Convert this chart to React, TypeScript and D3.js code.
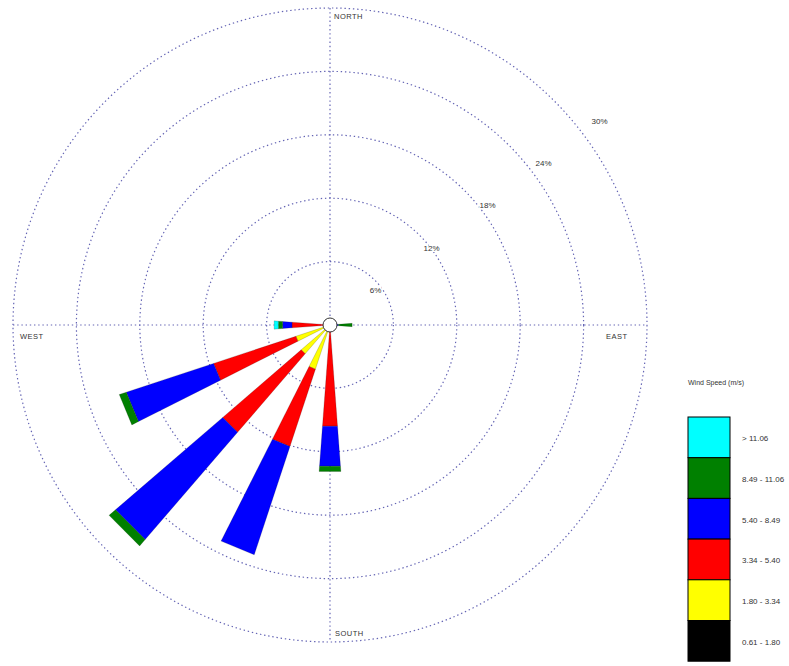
import React from "react";
import * as d3 from "d3";

// Directions (degrees clockwise from north) with frequencies (%) per speed class
const directions = [90, 180, 202.5, 225, 247.5, 270];
const classLabels = ["0.61 - 1.80", "1.80 - 3.34", "3.34 - 5.40", "5.40 - 8.49", "8.49 - 11.06", "> 11.06"];
const classColors = ["#000000", "#ffff00", "#ff0000", "#0000ff", "#008000", "#00ffff"];
const calm = [0.1, 0.3, 0.4, 0.4, 0.4, 0.2];
const light = [0.1, 0.3, 4.0, 3.2, 3.0, 0.4];
const moderate = [0.2, 9.0, 7.7, 9.8, 8.2, 3.0];
const fresh = [0.4, 3.8, 10.8, 13.4, 8.7, 0.9];
const strong = [1.3, 0.5, 0, 0.8, 0.7, 0.4];
const gale = [0, 0, 0, 0, 0, 0.4];
const ringValues = [6, 12, 18, 24, 30];
const ringLabels = ["6%", "12%", "18%", "24%", "30%"];
const compass = ["NORTH", "EAST", "SOUTH", "WEST"];

export default function App() {
  const W = 789, H = 666;
  const cx = 330, cy = 325;
  const r = d3.scaleLinear().domain([0, 30]).range([0, 317]);
  const half = 4.25;
  const rad = (deg: number) => (deg * Math.PI) / 180;
  const pt = (rr: number, a: number): [number, number] => [cx + rr * Math.sin(rad(a)), cy - rr * Math.cos(rad(a))];
  const line = d3.line();
  const series = [calm, light, moderate, fresh, strong, gale];
  const grid = "#6464b4";

  const petals: JSX.Element[] = [];
  directions.forEach((dir, i) => {
    let acc = 0;
    series.forEach((s, k) => {
      const v = s[i];
      if (v <= 0) return;
      const r0 = r(acc), r1 = r(acc + v);
      acc += v;
      const d = line([pt(r0, dir - half), pt(r1, dir - half), pt(r1, dir + half), pt(r0, dir + half)]) + "Z";
      petals.push(<path key={`${i}-${k}`} d={d} fill={classColors[k]} stroke="#000" strokeOpacity={0.35} strokeWidth={0.5} />);
    });
  });

  const legendX = 688, legendTop = 417, boxW = 42, boxH = 40.7;
  const legendOrder = d3.range(classLabels.length).reverse();

  return (
    <svg width={W} height={H} style={{ position: "absolute", left: 0, top: 0, background: "#fff" }} fontFamily="Liberation Sans, Arial, sans-serif">
      {ringValues.map((v) => (
        <circle key={v} cx={cx} cy={cy} r={r(v)} fill="none" stroke={grid} strokeWidth={1.2} strokeDasharray="1.4,2.8" />
      ))}
      <line x1={cx - r(30)} x2={cx + r(30)} y1={cy} y2={cy} stroke={grid} strokeWidth={1.2} strokeDasharray="1.4,2.8" />
      <line x1={cx} x2={cx} y1={cy - r(30)} y2={cy + r(30)} stroke={grid} strokeWidth={1.2} strokeDasharray="1.4,2.8" />
      {ringValues.map((v, i) => {
        const [x, y] = pt(r(v) * 1.106 - 13, 53);
        return (
          <text key={v} x={x} y={y} fontSize={8} fill="#333" textAnchor="middle" dominantBaseline="middle" stroke="#fff" strokeWidth={2} paintOrder="stroke">{ringLabels[i]}</text>
        );
      })}
      <text x={cx + 4} y={19} fontSize={7.5} fill="#333" letterSpacing={0.5}>{compass[0]}</text>
      <text x={cx + 276} y={339} fontSize={7.5} fill="#333" letterSpacing={0.5}>{compass[1]}</text>
      <text x={cx + 5} y={636} fontSize={7.5} fill="#333" letterSpacing={0.5}>{compass[2]}</text>
      <text x={20} y={339} fontSize={7.5} fill="#333" letterSpacing={0.5}>{compass[3]}</text>
      {petals}
      <circle cx={cx} cy={cy} r={7} fill="#fff" stroke="#333" strokeWidth={1} />
      <text x={legendX} y={385} fontSize={7} fill="#333">Wind Speed (m/s)</text>
      {legendOrder.map((k, j) => (
        <g key={k}>
          <rect x={legendX} y={legendTop + j * boxH} width={boxW} height={boxH} fill={classColors[k]} stroke="#000" strokeWidth={1} />
          <text x={legendX + 54} y={legendTop + j * boxH + boxH / 2 + 4} fontSize={8} fill="#333">{classLabels[k]}</text>
        </g>
      ))}
    </svg>
  );
}
